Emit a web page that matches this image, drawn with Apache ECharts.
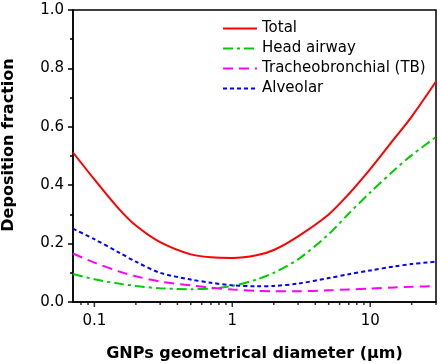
<!DOCTYPE html>
<html>
<head>
<meta charset="utf-8">
<script src="https://cdn.jsdelivr.net/npm/echarts@6/dist/echarts.min.js"></script>
<style>
  html, body { margin: 0; padding: 0; background: #fff; }
  #chart { width: 440px; height: 364px; }
</style>
</head>
<body>
<div id="chart"></div>
<script>
// particle diameter (um)
const diameters = [0.07, 0.1, 0.15, 0.2, 0.3, 0.5, 0.7, 1, 1.5, 2, 3, 5, 7, 10, 15, 20, 30]

const total = [0.512, 0.42, 0.32, 0.262, 0.205, 0.163, 0.153, 0.151, 0.16, 0.178, 0.225, 0.3, 0.37, 0.455, 0.56, 0.635, 0.755]
const headAirway = [0.096, 0.078, 0.063, 0.055, 0.047, 0.044, 0.046, 0.055, 0.077, 0.1, 0.146, 0.232, 0.303, 0.375, 0.452, 0.503, 0.565]
const tracheobronchial = [0.166, 0.135, 0.105, 0.088, 0.07, 0.057, 0.049, 0.043, 0.038, 0.037, 0.037, 0.04, 0.043, 0.046, 0.05, 0.052, 0.055]
const alveolar = [0.251, 0.215, 0.17, 0.138, 0.1, 0.077, 0.066, 0.057, 0.054, 0.055, 0.063, 0.082, 0.095, 0.108, 0.122, 0.13, 0.138]

const majorTicks = [0.1, 1, 10]
const minorTicks = [0.08, 0.09, 0.2, 0.3, 0.4, 0.5, 0.6, 0.7, 0.8, 0.9, 2, 3, 4, 5, 6, 7, 8, 9, 20, 30]

const xMin = 0.07
const xMax = 30
const font = 'DejaVu Sans, sans-serif'

const pairs = (ys) => diameters.map((d, i) => [d, ys[i]])

const chart = echarts.init(document.getElementById('chart'))

// x ticks of the log axis, drawn as small marks hanging under the axis line
const tickMarks = (values, len) => ({
  type: 'scatter',
  data: values.map(v => [v, 0]),
  symbol: 'rect',
  symbolSize: [1.5, len],
  symbolOffset: [0, len / 2],
  itemStyle: { color: '#000' },
  clip: false,
  silent: true,
  z: 5
})

const option = {
  animation: false,
  backgroundColor: '#fff',
  grid: {
    left: 73,
    right: 4,
    top: 10,
    bottom: 62,
    outerBoundsMode: 'none',
    show: true,
    borderColor: '#000',
    borderWidth: 1.5
  },
  legend: {
    orient: 'vertical',
    left: 217,
    top: 16,
    itemWidth: 34,
    itemHeight: 10,
    itemGap: 5,
    itemStyle: { opacity: 0 },
    textStyle: { color: '#000', fontSize: 15, fontFamily: font },
    data: ['Total', 'Head airway', 'Tracheobronchial (TB)', 'Alveolar']
  },
  xAxis: {
    type: 'log',
    min: xMin,
    max: xMax,
    name: 'GNPs geometrical diameter (μm)',
    nameLocation: 'middle',
    nameGap: 44,
    nameTextStyle: { color: '#000', fontSize: 16, fontWeight: 'bold', fontFamily: font },
    axisLine: { show: true, onZero: false, lineStyle: { color: '#000', width: 1.5 } },
    axisTick: { show: false },
    axisLabel: {
      show: true,
      customValues: majorTicks,
      formatter: (v) => String(v),
      color: '#000',
      fontSize: 15,
      fontFamily: font,
      margin: 12
    },
    splitLine: { show: false },
    minorTick: { show: false }
  },
  yAxis: {
    type: 'value',
    min: 0,
    max: 1,
    interval: 0.2,
    name: 'Deposition fraction',
    nameLocation: 'middle',
    nameGap: 56,
    nameTextStyle: { color: '#000', fontSize: 16, fontWeight: 'bold', fontFamily: font, padding: [0, 0, 0, 22] },
    axisLine: { show: true, onZero: false, lineStyle: { color: '#000', width: 1.5 } },
    axisTick: { show: true, length: 5, lineStyle: { color: '#000', width: 1.5 } },
    minorTick: { show: true, splitNumber: 2, length: 3, lineStyle: { color: '#000', width: 1.5 } },
    axisLabel: {
      color: '#000',
      fontSize: 15,
      fontFamily: font,
      margin: 9,
      formatter: (v) => v.toFixed(1)
    },
    splitLine: { show: false }
  },
  series: [
    {
      name: 'Total',
      type: 'line',
      data: pairs(total),
      smooth: 0.3,
      symbol: 'none',
      lineStyle: { color: '#ff0000', width: 2 },
      itemStyle: { color: '#ff0000' }
    },
    {
      name: 'Head airway',
      type: 'line',
      data: pairs(headAirway),
      smooth: 0.3,
      symbol: 'none',
      lineStyle: { color: '#00cc00', width: 2, type: [10, 4, 3, 4] },
      itemStyle: { color: '#00cc00' }
    },
    {
      name: 'Tracheobronchial (TB)',
      type: 'line',
      data: pairs(tracheobronchial),
      smooth: 0.3,
      symbol: 'none',
      lineStyle: { color: '#ff00ff', width: 2, type: [10, 6] },
      itemStyle: { color: '#ff00ff' }
    },
    {
      name: 'Alveolar',
      type: 'line',
      data: pairs(alveolar),
      smooth: 0.3,
      symbol: 'none',
      lineStyle: { color: '#0000ff', width: 2, type: [4, 3] },
      itemStyle: { color: '#0000ff' }
    },
    tickMarks(majorTicks, 5),
    tickMarks(minorTicks, 3)
  ]
}

chart.setOption(option)
</script>
</body>
</html>
